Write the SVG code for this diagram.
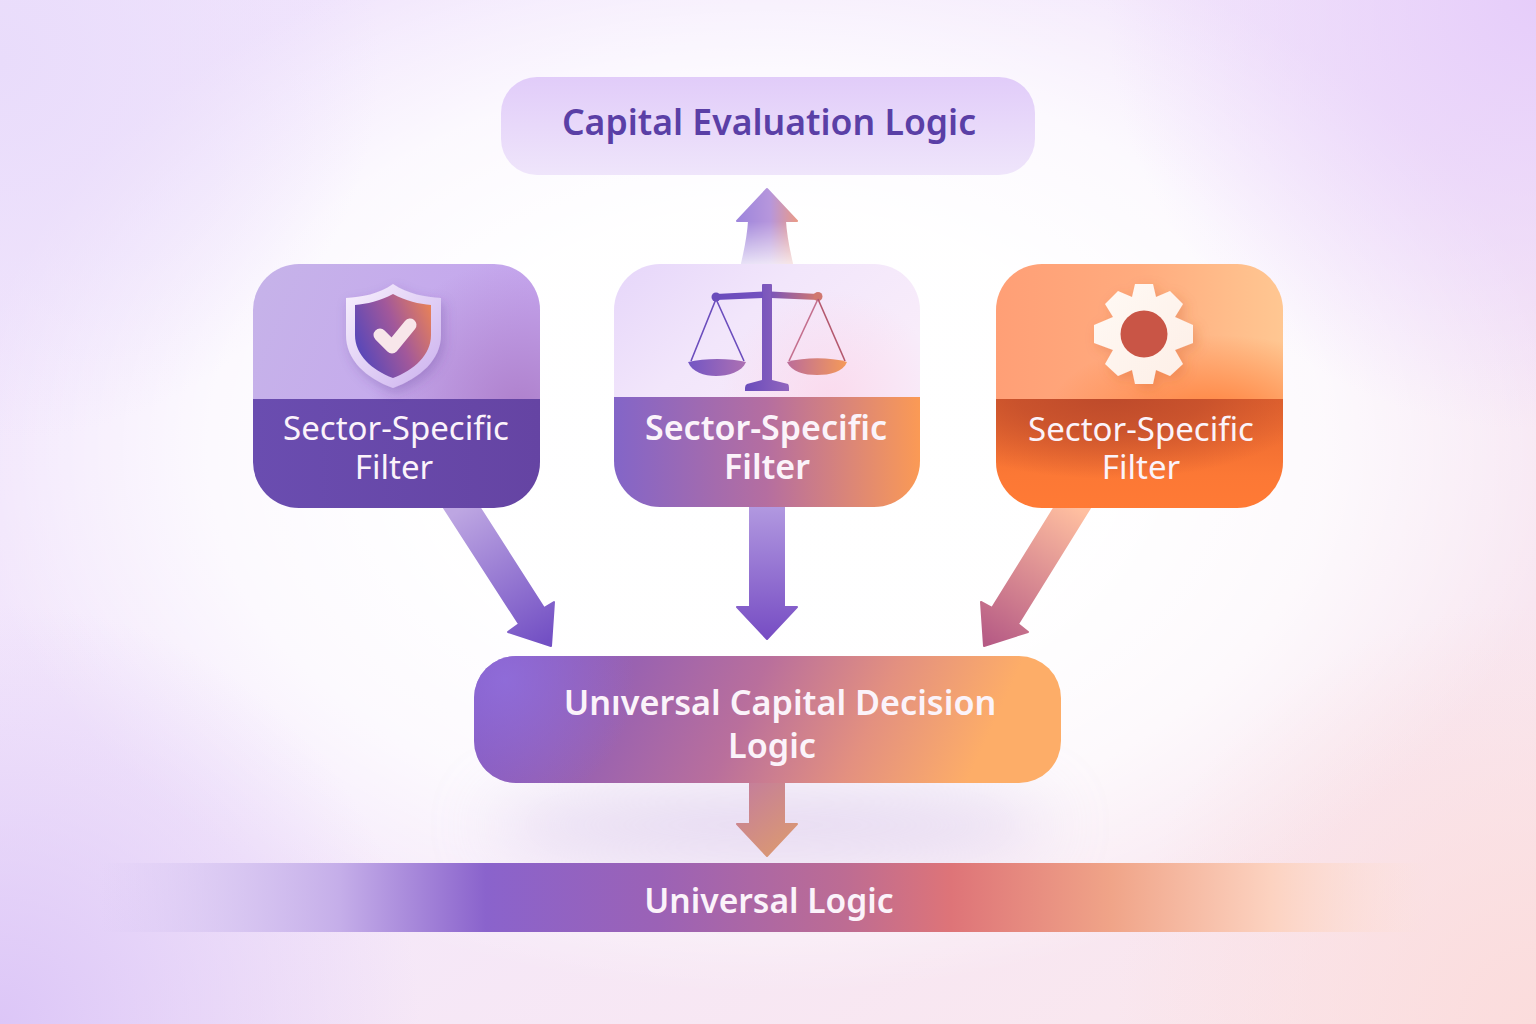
<svg xmlns="http://www.w3.org/2000/svg" width="1536" height="1024" viewBox="0 0 1536 1024">
<defs>
<linearGradient id="bgBase" x1="0" y1="0" x2="1" y2="1"><stop offset="0" stop-color="#f0e4fd"/><stop offset="0.5" stop-color="#f4e8fb"/><stop offset="1" stop-color="#fbe6ea"/></linearGradient>
<radialGradient id="bgGlow" gradientUnits="userSpaceOnUse" cx="768" cy="450" r="800" gradientTransform="translate(768 450) scale(1 0.68) translate(-768 -450)"><stop offset="0" stop-color="#fff"/><stop offset="0.45" stop-color="#fff" stop-opacity="0.98"/><stop offset="0.7" stop-color="#fff" stop-opacity="0.76"/><stop offset="0.88" stop-color="#fff" stop-opacity="0.32"/><stop offset="1" stop-color="#fff" stop-opacity="0"/></radialGradient>
<radialGradient id="cornerTR" gradientUnits="userSpaceOnUse" cx="1536" cy="0" r="430"><stop offset="0" stop-color="#e6cdfa"/><stop offset="1" stop-color="#e6cdfa" stop-opacity="0"/></radialGradient>
<radialGradient id="cornerBL" gradientUnits="userSpaceOnUse" cx="0" cy="1024" r="420"><stop offset="0" stop-color="#dcc6f7"/><stop offset="1" stop-color="#dcc6f7" stop-opacity="0"/></radialGradient>
<radialGradient id="cornerBR" gradientUnits="userSpaceOnUse" cx="1536" cy="1024" r="420"><stop offset="0" stop-color="#fbdcdc"/><stop offset="1" stop-color="#fbdcdc" stop-opacity="0"/></radialGradient>
<radialGradient id="cornerTL" gradientUnits="userSpaceOnUse" cx="0" cy="60" r="380"><stop offset="0" stop-color="#e9dcfb"/><stop offset="1" stop-color="#e9dcfb" stop-opacity="0"/></radialGradient>
<linearGradient id="topNode" x1="0" y1="0" x2="0" y2="1"><stop offset="0" stop-color="#e1ccf9"/><stop offset="1" stop-color="#efe5fb"/></linearGradient>
<linearGradient id="n1Top" x1="0" y1="0" x2="1" y2="0.2"><stop offset="0" stop-color="#c6b3e9"/><stop offset="1" stop-color="#c5a6ee"/></linearGradient>
<radialGradient id="n1Glow" gradientUnits="userSpaceOnUse" cx="520" cy="410" r="150"><stop offset="0" stop-color="#ac7cc8" stop-opacity="0.9"/><stop offset="1" stop-color="#ac7cc8" stop-opacity="0"/></radialGradient>
<linearGradient id="n1Bot" x1="0" y1="0" x2="1" y2="0"><stop offset="0" stop-color="#6a4db0"/><stop offset="1" stop-color="#6544a3"/></linearGradient>
<linearGradient id="n2Top" x1="0" y1="0" x2="1" y2="0.5"><stop offset="0" stop-color="#e6d6fa"/><stop offset="0.5" stop-color="#f2e6fb"/><stop offset="1" stop-color="#f8ecfa"/></linearGradient>
<radialGradient id="n2Glow" gradientUnits="userSpaceOnUse" cx="830" cy="400" r="110"><stop offset="0" stop-color="#fbd6ea" stop-opacity="0.8"/><stop offset="1" stop-color="#fbd6ea" stop-opacity="0"/></radialGradient>
<linearGradient id="n2Bot" x1="0" y1="0" x2="1" y2="0"><stop offset="0" stop-color="#8365c8"/><stop offset="0.5" stop-color="#b56ea0"/><stop offset="1" stop-color="#fb9a55"/></linearGradient>
<linearGradient id="n3Top" x1="0" y1="0" x2="1" y2="0"><stop offset="0" stop-color="#ff9f76"/><stop offset="0.5" stop-color="#ffab7e"/><stop offset="1" stop-color="#ffc792"/></linearGradient>
<radialGradient id="n3Glow" gradientUnits="userSpaceOnUse" cx="1215" cy="420" r="170" gradientTransform="translate(1215 420) scale(1 0.5) translate(-1215 -420)"><stop offset="0" stop-color="#ff7f3a"/><stop offset="1" stop-color="#ff7f3a" stop-opacity="0"/></radialGradient>
<linearGradient id="n3BotBase" x1="0" y1="0" x2="0" y2="1"><stop offset="0" stop-color="#e5652f"/><stop offset="0.7" stop-color="#fc7835"/><stop offset="1" stop-color="#ff7a35"/></linearGradient>
<radialGradient id="n3Dark" gradientUnits="userSpaceOnUse" cx="1110" cy="395" r="210" gradientTransform="translate(1110 395) scale(1 0.4) translate(-1110 -395)"><stop offset="0" stop-color="#bd4a2b"/><stop offset="0.45" stop-color="#bd4a2b" stop-opacity="0.7"/><stop offset="1" stop-color="#bd4a2b" stop-opacity="0"/></radialGradient>
<linearGradient id="udl" x1="0" y1="0" x2="1" y2="0.1"><stop offset="0" stop-color="#8058c4"/><stop offset="0.28" stop-color="#9a62b0"/><stop offset="0.5" stop-color="#b96f9c"/><stop offset="0.72" stop-color="#e39080"/><stop offset="0.93" stop-color="#fdad68"/><stop offset="1" stop-color="#fdad68"/></linearGradient>
<radialGradient id="udlHi" gradientUnits="userSpaceOnUse" cx="505" cy="680" r="130"><stop offset="0" stop-color="#9271e0" stop-opacity="0.75"/><stop offset="1" stop-color="#9271e0" stop-opacity="0"/></radialGradient>
<linearGradient id="band" x1="100" y1="0" x2="1430" y2="0" gradientUnits="userSpaceOnUse"><stop offset="0" stop-color="#d9c8f3" stop-opacity="0"/><stop offset="0.1" stop-color="#d4c2f0" stop-opacity="0.8"/><stop offset="0.18" stop-color="#c5aee9"/><stop offset="0.29" stop-color="#8a63cc"/><stop offset="0.42" stop-color="#9b62b6"/><stop offset="0.56" stop-color="#bd6c93"/><stop offset="0.64" stop-color="#de7478"/><stop offset="0.76" stop-color="#f0a488"/><stop offset="0.88" stop-color="#fcd2c0"/><stop offset="1" stop-color="#fde2d9" stop-opacity="0"/></linearGradient>
<linearGradient id="arUp" x1="0" y1="0" x2="1" y2="0"><stop offset="0" stop-color="#9d85dc"/><stop offset="0.55" stop-color="#b696dc"/><stop offset="1" stop-color="#e99a88"/></linearGradient>
<linearGradient id="arUpFade" x1="0" y1="188" x2="0" y2="272" gradientUnits="userSpaceOnUse"><stop offset="0.4" stop-color="#fff"/><stop offset="1" stop-color="#fff" stop-opacity="0.1"/></linearGradient>
<mask id="upMask" maskUnits="userSpaceOnUse" x="700" y="180" width="140" height="100"><rect x="700" y="180" width="140" height="100" fill="url(#arUpFade)"/></mask>
<linearGradient id="ar1" gradientUnits="userSpaceOnUse" x1="460" y1="510" x2="540" y2="645"><stop offset="0" stop-color="#bda6e2"/><stop offset="1" stop-color="#7350c4"/></linearGradient>
<linearGradient id="ar2" gradientUnits="userSpaceOnUse" x1="767" y1="507" x2="767" y2="640"><stop offset="0" stop-color="#b198e0"/><stop offset="1" stop-color="#764cc3"/></linearGradient>
<linearGradient id="ar3" gradientUnits="userSpaceOnUse" x1="1080" y1="510" x2="990" y2="645"><stop offset="0" stop-color="#ffbfa0"/><stop offset="1" stop-color="#b65b85"/></linearGradient>
<linearGradient id="ar4" gradientUnits="userSpaceOnUse" x1="745" y1="790" x2="795" y2="850"><stop offset="0" stop-color="#c68098"/><stop offset="1" stop-color="#dc9a70"/></linearGradient>
<linearGradient id="shieldOut" x1="0" y1="0" x2="1" y2="1"><stop offset="0" stop-color="#f8f1fd"/><stop offset="1" stop-color="#cbb0ee"/></linearGradient>
<linearGradient id="shieldIn" x1="0" y1="0.55" x2="1" y2="0.1"><stop offset="0" stop-color="#5a48b8"/><stop offset="0.5" stop-color="#a2589a"/><stop offset="1" stop-color="#ea8356"/></linearGradient>
<linearGradient id="scalePurple" gradientUnits="userSpaceOnUse" x1="745" y1="0" x2="790" y2="0"><stop offset="0" stop-color="#6a4cbc"/><stop offset="1" stop-color="#9266bd"/></linearGradient>
<linearGradient id="panL" gradientUnits="userSpaceOnUse" x1="688" y1="0" x2="746" y2="0"><stop offset="0" stop-color="#7356c4"/><stop offset="1" stop-color="#ad70b2"/></linearGradient>
<linearGradient id="panR" gradientUnits="userSpaceOnUse" x1="787" y1="0" x2="847" y2="0"><stop offset="0" stop-color="#bb6c9a"/><stop offset="1" stop-color="#f59a58"/></linearGradient>
<linearGradient id="beam" gradientUnits="userSpaceOnUse" x1="716" y1="0" x2="818" y2="0"><stop offset="0" stop-color="#6a4cbc"/><stop offset="0.5" stop-color="#7452bf"/><stop offset="1" stop-color="#d2786f"/></linearGradient>
<linearGradient id="gear" x1="0" y1="0" x2="1" y2="1"><stop offset="0" stop-color="#fffaf5"/><stop offset="1" stop-color="#fdeee6"/></linearGradient>
<filter id="blur30" x="-40%" y="-150%" width="180%" height="400%"><feGaussianBlur stdDeviation="34"/></filter>
<filter id="soft" x="-30%" y="-30%" width="160%" height="160%"><feDropShadow dx="3" dy="5" stdDeviation="6" flood-color="#5a3a90" flood-opacity="0.28"/></filter>
<filter id="softOr" x="-30%" y="-30%" width="160%" height="160%"><feDropShadow dx="4" dy="4" stdDeviation="6" flood-color="#c8582a" flood-opacity="0.28"/></filter>
<clipPath id="c1"><rect x="253" y="264" width="287" height="244" rx="46"/></clipPath>
<clipPath id="c2"><rect x="614" y="264" width="306" height="243" rx="46"/></clipPath>
<clipPath id="c3"><rect x="996" y="264" width="287" height="244" rx="46"/></clipPath>
</defs>
<style>
.t{font-family:"Noto Sans","Open Sans","Liberation Sans",sans-serif;text-anchor:middle}
.w{fill:#fbf3fa}
.f{font-size:33px}
.b{font-size:34px;font-weight:600}
.r{stroke-linejoin:round;stroke-width:2}
</style>
<g id="background">
<rect width="1536" height="1024" fill="url(#bgBase)"/>
<rect width="1536" height="1024" fill="url(#bgGlow)"/>
<rect width="1536" height="1024" fill="url(#cornerTR)"/>
<rect width="1536" height="1024" fill="url(#cornerTL)"/>
<rect width="1536" height="1024" fill="url(#cornerBL)"/>
<rect width="1536" height="1024" fill="url(#cornerBR)"/>
<ellipse cx="770" cy="825" rx="280" ry="34" fill="#c8afe2" opacity="0.5" filter="url(#blur30)"/>
</g>
<g id="connectors">
<path mask="url(#upMask)" class="r" d="M767 189 L797 221 H785 C786 240 790 255 794 272 H740 C744 255 748 240 749 221 H737 Z" fill="url(#arUp)" stroke="url(#arUp)"/>
<path class="r" d="M444 508 H480 L544 608 L554 602 L551 646 L508 632 L519 624 Z" fill="url(#ar1)" stroke="url(#ar1)"/>
<path class="r" d="M750 507 H784 V607 H797 L767 639 L737 607 H750 Z" fill="url(#ar2)" stroke="url(#ar2)"/>
<path class="r" d="M1054 508 H1090 L1018 624 L1028 632 L984 646 L981 602 L992 608 Z" fill="url(#ar3)" stroke="url(#ar3)"/>
<path class="r" d="M750 782 H784 V824 H797 L767 856 L737 824 H750 Z" fill="url(#ar4)" stroke="url(#ar4)"/>
</g>
<g id="node-capital-evaluation">
<rect x="501" y="77" width="534" height="98" rx="36" fill="url(#topNode)"/>
<text class="t" x="769" y="135" font-size="35.600" font-weight="600" fill="#5a3fa6">Capital Evaluation Logic</text>
</g>
<g id="node-filter-1">
<g clip-path="url(#c1)">
<rect x="253" y="264" width="287" height="135" fill="url(#n1Top)"/>
<rect x="253" y="264" width="287" height="135" fill="url(#n1Glow)"/>
<rect x="253" y="399" width="287" height="109" fill="url(#n1Bot)"/>
</g>
<g filter="url(#soft)">
<path d="M393 284 C408 294 425 297 441 298 V335 C441 360 420 378 393 388 C366 378 346 360 346 335 V298 C362 297 379 294 393 284 Z" fill="url(#shieldOut)"/>
</g>
<path d="M393 294 C406 301 419 304 431 305 V335 C431 355 414 370 393 378 C372 370 355 355 355 335 V305 C367 304 380 301 393 294 Z" fill="url(#shieldIn)"/>
<path d="M380 335 L392 347 L410 325" fill="none" stroke="#f8e6ea" stroke-width="13" stroke-linecap="round" stroke-linejoin="round"/>
<text class="t w f" x="396" y="440">Sector-Specific</text>
<text class="t w f" x="394" y="479">Filter</text>
</g>
<g id="node-filter-2">
<g clip-path="url(#c2)">
<rect x="614" y="264" width="306" height="133" fill="url(#n2Top)"/>
<rect x="614" y="264" width="306" height="133" fill="url(#n2Glow)"/>
<rect x="614" y="397" width="306" height="110" fill="url(#n2Bot)"/>
</g>
<path d="M762 285 Q762 284 763 284 H771 Q772 284 772 285 V380 L788 384 Q789 385 789 388 V391 H745 V388 Q745 385 747 384 L762 380 Z" fill="url(#scalePurple)"/>
<path d="M716 294 L763 291.500 V298 L716 300 Z M771 291.500 L818 294 V300 L771 298 Z" fill="url(#beam)"/>
<circle cx="716" cy="297" r="4.500" fill="#6a4cbc"/><circle cx="818" cy="296.500" r="4.500" fill="#d0776f"/>
<path d="M688 362 C705 358 730 358 746 362 C742 372 728 376 716 376 C704 376 692 372 688 362 Z" fill="url(#panL)"/>
<path d="M787 362 C805 357 830 357 847 362 C843 372 830 375 817 375 C804 375 792 372 787 362 Z" fill="url(#panR)"/>
<g fill="none" stroke-width="1.600">
<path d="M716 299 L691 361 M716 299 L744 361" stroke="#6b4dbd"/>
<path d="M818 299 L789 361" stroke="#c46f8e"/><path d="M818 299 L845 361" stroke="#b4586e"/>
</g>
<text class="t w b" x="766" y="440">Sector-Specific</text>
<text class="t w b" x="767" y="479">Filter</text>
</g>
<g id="node-filter-3">
<g clip-path="url(#c3)">
<rect x="996" y="264" width="287" height="135" fill="url(#n3Top)"/>
<rect x="996" y="264" width="287" height="135" fill="url(#n3Glow)"/>
<rect x="996" y="399" width="287" height="109" fill="url(#n3BotBase)"/>
<rect x="996" y="399" width="287" height="109" fill="url(#n3Dark)"/>
</g>
<g filter="url(#softOr)">
<path d="M1135 284 H1153 L1156 297 L1170 291 L1183 304 L1175 317 L1193 325 V343 L1175 350 L1183 364 L1170 376 L1156 370 L1153 384 H1135 L1132 370 L1118 376 L1105 364 L1113 350 L1094 343 V325 L1113 317 L1105 304 L1118 291 L1132 297 Z" fill="url(#gear)"/>
</g>
<circle cx="1144" cy="334" r="23.500" fill="#c95546"/>
<text class="t w f" x="1141" y="441">Sector-Specific</text>
<text class="t w f" x="1141" y="479">Filter</text>
</g>
<g id="node-universal-decision">
<rect x="474" y="656" width="587" height="127" rx="42" fill="url(#udl)"/>
<rect x="474" y="656" width="587" height="127" rx="42" fill="url(#udlHi)"/>
<text class="t w" font-size="34.200" font-weight="600" x="780" y="715">Unıversal Capital Decision</text>
<text class="t w" font-size="34.200" font-weight="600" x="772" y="758">Logic</text>
</g>
<g id="node-universal-logic">
<rect x="100" y="863" width="1330" height="69" fill="url(#band)"/>
<text class="t w" font-size="33.600" font-weight="600" x="769" y="913">Universal Logic</text>
</g>
</svg>
